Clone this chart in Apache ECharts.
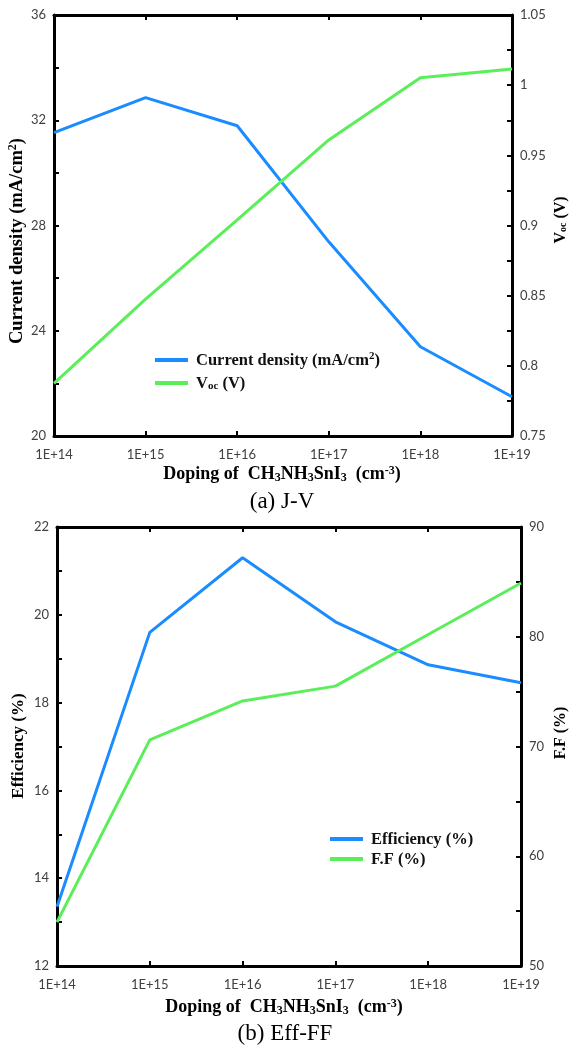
<!DOCTYPE html>
<html>
<head>
<meta charset="utf-8">
<script src="https://cdn.jsdelivr.net/npm/echarts@6/dist/echarts.min.js"></script>
<style>
  html, body { margin: 0; padding: 0; background: #fff; }
  #chart { width: 570px; height: 1049px; }
</style>
</head>
<body>
<div id="chart"></div>
<script>
// Doping levels of CH3NH3SnI3 (cm^-3)
const dopingLevels = ['1E+14', '1E+15', '1E+16', '1E+17', '1E+18', '1E+19'];

// (a) J-V
const currentDensity = [31.53, 32.86, 31.79, 27.38, 23.39, 21.49]; // mA/cm2
const openCircuitVoltage = [0.7875, 0.8476, 0.904, 0.961, 1.0053, 1.0115]; // V

// (b) Eff-FF
const efficiency = [13.35, 19.6, 21.3, 19.84, 18.86, 18.45]; // %
const fillFactor = [54.0, 70.6, 74.15, 75.5, 80.2, 84.9]; // %

const BLUE = '#1a8cff';
const GREEN = '#5aef5a';
const SERIF = '"Liberation Serif", "Times New Roman", serif';
const SANS = 'Lato, "Liberation Sans", sans-serif';

// rich text styles for a given base size (bold serif with sub/superscripts)
function richFor(size) {
  const small = Math.round(size * 0.65);
  const lh = Math.round(size * 1.08);
  return {
    t: { fontFamily: SERIF, fontWeight: 'bold', fontSize: size, color: '#111', lineHeight: lh, verticalAlign: 'bottom' },
    sup: { fontFamily: SERIF, fontWeight: 'bold', fontSize: small, color: '#111', lineHeight: lh, verticalAlign: 'top' },
    sub: { fontFamily: SERIF, fontWeight: 'bold', fontSize: small, color: '#111', lineHeight: Math.round(size * 0.8), verticalAlign: 'bottom' }
  };
}

function axisStyle(extra) {
  return Object.assign({
    axisLine: { show: true, onZero: false, lineStyle: { color: '#000', width: 3 } },
    axisTick: { show: true, inside: true, length: 5, lineStyle: { color: '#000', width: 2 } },
    minorTick: { show: true, splitNumber: 2, length: 5, lineStyle: { color: '#000', width: 2 } },
    splitLine: { show: false },
    axisLabel: { color: '#404040', fontFamily: SANS, fontSize: 13, margin: 8 }
  }, extra);
}

function xAxes(gridIndex) {
  const base = {
    type: 'category', gridIndex, data: dopingLevels, boundaryGap: false,
    axisLine: { show: true, onZero: false, lineStyle: { color: '#000', width: 3 } },
    axisTick: { show: true, inside: true, length: 5, alignWithLabel: true, lineStyle: { color: '#000', width: 2 } },
    splitLine: { show: false }
  };
  return [
    Object.assign({}, base, {
      position: 'bottom',
      axisLabel: { color: '#404040', fontFamily: SANS, fontSize: 13, margin: 12, interval: 0 }
    }),
    Object.assign({}, base, { position: 'top', axisLabel: { show: false } })
  ];
}

function lineSeries(name, data, xIdx, yIdx, color) {
  return {
    name, type: 'line', data, xAxisIndex: xIdx, yAxisIndex: yIdx,
    showSymbol: false, symbol: 'none', smooth: false,
    lineStyle: { color, width: 3 }, itemStyle: { color },
    z: 3
  };
}

function legendBlock(names, left, top, gap) {
  return {
    data: names,
    orient: 'vertical',
    left, top,
    icon: 'rect',
    itemWidth: 33,
    itemHeight: 4,
    itemGap: gap,
    selectedMode: false,
    formatter: function (n) {
      if (n === 'Current density (mA/cm2)') return '{t|Current density (mA/cm}{sup|2}{t|)}';
      if (n === 'Voc (V)') return '{t|V}{sub|oc}{t| (V)}';
      return '{t|' + n + '}';
    },
    textStyle: { padding: [0, 0, 0, 3], rich: richFor(16.5) }
  };
}

function titleText(x, y, text, rotate, size, opts) {
  return {
    type: 'text', x, y, rotation: rotate ? Math.PI / 2 : 0,
    style: Object.assign({
      text, x: 0, y: 0, align: 'center', verticalAlign: 'middle', rich: richFor(size)
    }, opts || {})
  };
}

const dopingTitle = '{t|Doping of  CH}{sub|3}{t|NH}{sub|3}{t|SnI}{sub|3}{t|  (cm}{sup|-3}{t|)}';

const option = {
  animation: false,
  backgroundColor: '#fff',
  grid: [
    { left: 54, top: 15, width: 458, height: 421, containLabel: false },
    { left: 57, top: 527, width: 464, height: 439, containLabel: false }
  ],
  xAxis: [].concat(xAxes(0), xAxes(1)),
  yAxis: [
    axisStyle({ type: 'value', gridIndex: 0, position: 'left', min: 20, max: 36, interval: 4 }),
    axisStyle({ type: 'value', gridIndex: 0, position: 'right', min: 0.75, max: 1.05, interval: 0.05,
      axisLabel: { color: '#404040', fontFamily: SANS, fontSize: 13, margin: 8,
        formatter: v => String(Math.round(v * 100) / 100) } }),
    axisStyle({ type: 'value', gridIndex: 1, position: 'left', min: 12, max: 22, interval: 2 }),
    axisStyle({ type: 'value', gridIndex: 1, position: 'right', min: 50, max: 90, interval: 10 })
  ],
  legend: [
    legendBlock(['Current density (mA/cm2)', 'Voc (V)'], 150, 346, 6),
    legendBlock(['Efficiency (%)', 'F.F (%)'], 325, 826, 3)
  ],
  series: [
    lineSeries('Current density (mA/cm2)', currentDensity, 0, 0, BLUE),
    lineSeries('Voc (V)', openCircuitVoltage, 0, 1, GREEN),
    lineSeries('Efficiency (%)', efficiency, 2, 2, BLUE),
    lineSeries('F.F (%)', fillFactor, 2, 3, GREEN)
  ],
  graphic: [
    titleText(17, 241, '{t|Current density (mA/cm}{sup|2}{t|)}', true, 18.5),
    titleText(560, 220, '{t|V}{sub|oc}{t| (V)}', true, 16),
    titleText(282, 474, dopingTitle, false, 18),
    titleText(282, 502, '(a) J-V', false, 16, { rich: null, font: '23px ' + SERIF, fill: '#000' }),
    titleText(18, 746, '{t|Efficiency (%)}', true, 17),
    titleText(560, 733, '{t|F.F (%)}', true, 16),
    titleText(284, 1007, dopingTitle, false, 18),
    titleText(285, 1034, '(b) Eff-FF', false, 16, { rich: null, font: '23px ' + SERIF, fill: '#000' })
  ]
};

const chart = echarts.init(document.getElementById('chart'), null, { renderer: 'canvas' });
chart.setOption(option);
</script>
</body>
</html>
